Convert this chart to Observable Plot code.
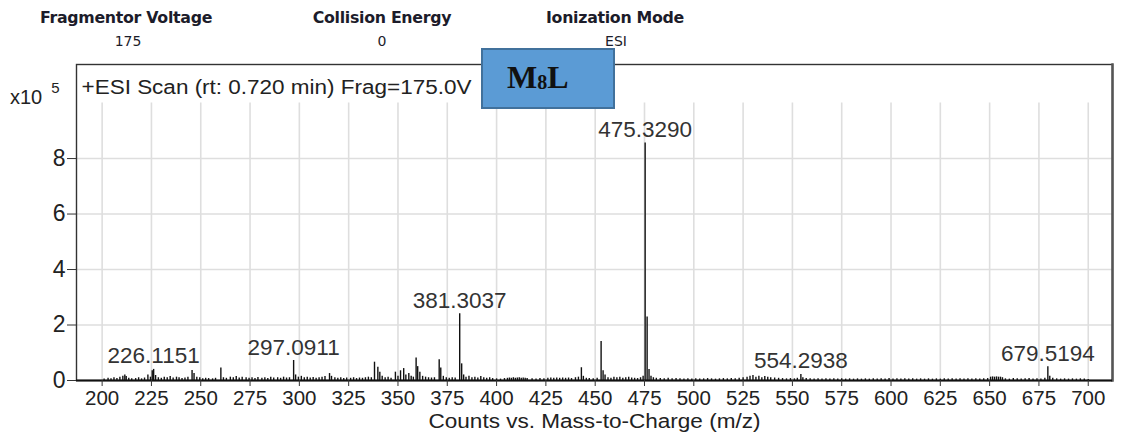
<!DOCTYPE html>
<html>
<head>
<meta charset="utf-8">
<script src="https://cdn.jsdelivr.net/npm/d3@7"></script>
<script src="https://cdn.jsdelivr.net/npm/@observablehq/plot@0.6"></script>
<style>
  body { margin: 0; background: #fff; }
  #wrap { position: relative; width: 1121px; height: 437px; overflow: hidden; font-family: "Liberation Sans", Arial, sans-serif; }
  .hdr { position: absolute; transform: translateX(-50%); white-space: nowrap; font-family: "DejaVu Sans", sans-serif; color: #1c1c2a; line-height: 1; }
  .hdr.t { font-weight: bold; font-size: 15.8px; top: 10px; letter-spacing: -0.3px; }
  .hdr.v { font-size: 14px; top: 34px; }
  #box { position: absolute; left: 481px; top: 48px; width: 130px; height: 57px; background: #5b9bd5; border: 2px solid #41719c; }
  #box span { position: absolute; left: 24px; top: 9px; font-family: "Liberation Serif", "Times New Roman", serif; font-weight: bold; font-size: 32px; color: #111; }
  #box sub { font-size: 20px; vertical-align: -1px; }
  #yl { position: absolute; left: 10px; top: 82px; font-size: 20px; color: #222; }
  #yl sup { font-size: 15px; position: relative; top: -3px; margin-left: 9px; vertical-align: super; }
  #chart { position: absolute; left: 0; top: 0; }
</style>
</head>
<body>
<div id="wrap">
  <div id="chart"></div>
  <div class="hdr t" style="left:126px">Fragmentor Voltage</div>
  <div class="hdr v" style="left:128px">175</div>
  <div class="hdr t" style="left:382px">Collision Energy</div>
  <div class="hdr v" style="left:382px">0</div>
  <div class="hdr t" style="left:615px">Ionization Mode</div>
  <div class="hdr v" style="left:616px">ESI</div>
  <div id="yl">x10<sup>5</sup></div>
  <div id="box"><span>M<sub>8</sub>L</span></div>
</div>
<script>
// m/z (x) and intensity (×10^5 counts) of the spectrum sticks
const mz = [
  201,203,204.5,206,207.5,209,210.5,211.5,212.2,213.5,215,217,218.5,220,221.5,223.2,224.5,225.4,226.1151,227.1,228.5,
  230,231.5,233,234.5,236,237.7,239,240.5,242,243.5,245.6,246.6,248,249.5,251,252.5,254,256,257.5,260.2,261.5,263,
  265,266.5,268,269.5,271,273,274.5,276,277.5,279,281,282.5,284,285.5,287,289,290.5,292,293.5,295,297.0911,298.1,299.5,
  301,302.5,304,305.5,307,308.5,310,311.5,313,315.3,316.3,318,319.5,321,322.5,324,326,327.5,329,330.5,332,333.5,335,336.5,
  338.1,339.8,340.8,342,343.5,345,346.5,348.7,350,351.3,352.9,354,355.5,356.7,357.8,359.2,360.0,361.1,362.5,364,365.5,367,368.5,
  370.9,371.7,373,374.5,376,377.5,379,381.3037,382.3,383.3,384.5,386,387.5,389,390.5,392,393.5,395,396.5,398,400,402,404,
  405.5,406.5,407.5,408.5,409.5,410.5,411.5,412.5,413.5,414.5,415.5,418,420,422,424,426,427.5,429,430.5,432,433.5,435,436.5,438,
  440,441.5,443,444,445.5,447,449,451,453,454,455,456.5,458,459.5,461,462.5,464,465.5,467,468.5,470,471.5,473,474.3,
  475.329,476.33,477.3,478.3,479.5,481,483,485,487,489,491,493,495,497,499,501,503,505,507,509,511,513,515,517,519,521,523,
  525,527,528.5,530,531.5,533,534.5,536,537.5,539,541,543,545,547,549,551,552.5,554.2938,555.3,557,559,561,563,565,567,569,
  571,573,575,577,579,581,583,585,587,589,591,593,595,597,599,601,603,605,607,609,611,613,615,617,619,621,623,625,627,629,
  631,633,635,637,639,641,643,645,647,649,650.5,651.5,652.5,653.5,654.5,655.5,656.5,658,660,662,664,666,668,670,672,674,676,678,
  679.5194,680.5,682,684,686,688,690,692,694,696,698,700
];
const intensity = [
  0.05,0.08,0.06,0.10,0.07,0.12,0.15,0.20,0.14,0.08,0.06,0.07,0.10,0.06,0.09,0.20,0.12,0.35,0.40,0.18,0.10,
  0.08,0.12,0.10,0.14,0.09,0.12,0.10,0.07,0.09,0.12,0.36,0.25,0.12,0.10,0.06,0.08,0.07,0.06,0.08,0.45,0.10,0.08,
  0.12,0.10,0.14,0.09,0.12,0.10,0.08,0.10,0.07,0.11,0.08,0.10,0.07,0.12,0.09,0.10,0.08,0.12,0.09,0.10,0.72,0.20,0.12,
  0.15,0.10,0.12,0.09,0.11,0.08,0.10,0.12,0.14,0.25,0.15,0.10,0.08,0.10,0.07,0.09,0.08,0.10,0.07,0.09,0.08,0.10,0.12,0.10,
  0.66,0.48,0.30,0.15,0.10,0.12,0.08,0.30,0.15,0.35,0.43,0.20,0.25,0.15,0.12,0.81,0.50,0.30,0.15,0.12,0.10,0.09,0.10,
  0.75,0.45,0.15,0.10,0.08,0.10,0.09,2.41,0.60,0.20,0.12,0.15,0.10,0.12,0.09,0.14,0.10,0.08,0.10,0.07,0.06,0.05,0.07,
  0.08,0.09,0.08,0.10,0.08,0.09,0.10,0.08,0.09,0.08,0.07,0.06,0.05,0.07,0.06,0.08,0.09,0.08,0.09,0.08,0.09,0.08,0.09,0.07,
  0.10,0.12,0.46,0.15,0.08,0.07,0.06,0.08,1.41,0.35,0.20,0.10,0.08,0.12,0.10,0.12,0.08,0.10,0.12,0.09,0.08,0.07,0.10,0.15,
  8.56,2.29,0.40,0.15,0.10,0.08,0.07,0.06,0.08,0.06,0.07,0.06,0.05,0.06,0.05,0.06,0.05,0.06,0.07,0.06,0.05,0.06,0.07,0.06,0.07,0.06,0.08,
  0.10,0.12,0.15,0.18,0.12,0.15,0.10,0.14,0.12,0.10,0.09,0.08,0.07,0.06,0.07,0.06,0.08,0.22,0.10,0.07,0.06,0.05,0.06,0.05,0.06,0.05,
  0.06,0.05,0.06,0.05,0.06,0.05,0.06,0.05,0.06,0.05,0.06,0.05,0.06,0.05,0.07,0.05,0.06,0.05,0.06,0.05,0.06,0.05,0.06,0.05,0.06,0.05,0.06,0.05,0.06,0.05,
  0.06,0.05,0.06,0.05,0.06,0.05,0.06,0.05,0.06,0.07,0.12,0.13,0.12,0.13,0.12,0.12,0.10,0.06,0.05,0.07,0.06,0.05,0.06,0.07,0.05,0.06,0.05,0.08,
  0.50,0.15,0.08,0.06,0.05,0.06,0.05,0.06,0.05,0.06,0.05,0.04
];
// annotated peaks
const labelMz = [226.1151, 297.0911, 381.3037, 475.3290, 554.2938, 679.5194];
const labelText = ["226.1151", "297.0911", "381.3037", "475.3290", "554.2938", "679.5194"];
const labelI = [0.40, 0.72, 2.41, 8.56, 0.22, 0.50];
// axes
const xTicks = [200,225,250,275,300,325,350,375,400,425,450,475,500,525,550,575,600,625,650,675,700];
const yTicks = [0,2,4,6,8];
const yGrid = [2,4,6,8];
const title = "+ESI Scan (rt: 0.720 min) Frag=175.0V";
const xLabel = "Counts vs. Mass-to-Charge (m/z)";

const peaks = mz.map((m, i) => ({mz: m, i: intensity[i]}));
const labels = labelMz.map((m, i) => ({mz: m, i: labelI[i], t: labelText[i]}));

const chart = Plot.plot({
  width: 1121,
  height: 437,
  marginLeft: 76,
  marginRight: 9,
  marginTop: 64,
  marginBottom: 57,
  style: {fontFamily: "'Liberation Sans', Arial, sans-serif", background: "transparent", color: "#222"},
  x: {domain: [187, 712.3]},
  y: {domain: [0, 11.39]},
  marks: [
    Plot.ruleX(xTicks, {x: d => d, y1: 0, y2: 10, stroke: "#dedede", strokeWidth: 1.6}),
    Plot.ruleY(yGrid, {y: d => d, stroke: "#dedede", strokeWidth: 1.6}),
    Plot.frame({stroke: "#333", strokeWidth: 1.4}),
    Plot.frame({anchor: "right", stroke: "#555", strokeWidth: 2.5}),
    Plot.ruleX(peaks, {x: "mz", y1: 0, y2: "i", stroke: "#111", strokeWidth: 1.4}),
    Plot.ruleY([0], {stroke: "#111", strokeWidth: 2}),
    Plot.text(labels, {x: "mz", y: "i", text: "t", lineAnchor: "bottom", dy: -6, fontSize: 22.5, fill: "#333"}),
    Plot.text([title], {frameAnchor: "top-left", dx: 5, dy: 23, lineAnchor: "middle", fontSize: 20, fill: "#222"}),
    Plot.axisX({ticks: xTicks, tickSize: 6, tickPadding: 4, fontSize: 20.5, tickFormat: d => String(d), label: null, stroke: "#333"}),
    Plot.axisY({ticks: yTicks, tickSize: 9, tickPadding: 2, fontSize: 23, tickFormat: d => String(d), label: null, stroke: "#333"}),
    Plot.text([xLabel], {frameAnchor: "bottom", dy: 47, dx: 0, lineAnchor: "bottom", fontSize: 19.5, fill: "#222"})
  ]
});
// widen the two long captions to the reference's horizontal proportions
d3.select(chart).selectAll("text").each(function() {
  const t = this.textContent;
  if (t === title) { this.setAttribute("textLength", 390); this.setAttribute("lengthAdjust", "spacingAndGlyphs"); }
  if (t === xLabel) { this.setAttribute("textLength", 332); this.setAttribute("lengthAdjust", "spacingAndGlyphs"); }
});
document.getElementById("chart").appendChild(chart);
</script>
</body>
</html>
